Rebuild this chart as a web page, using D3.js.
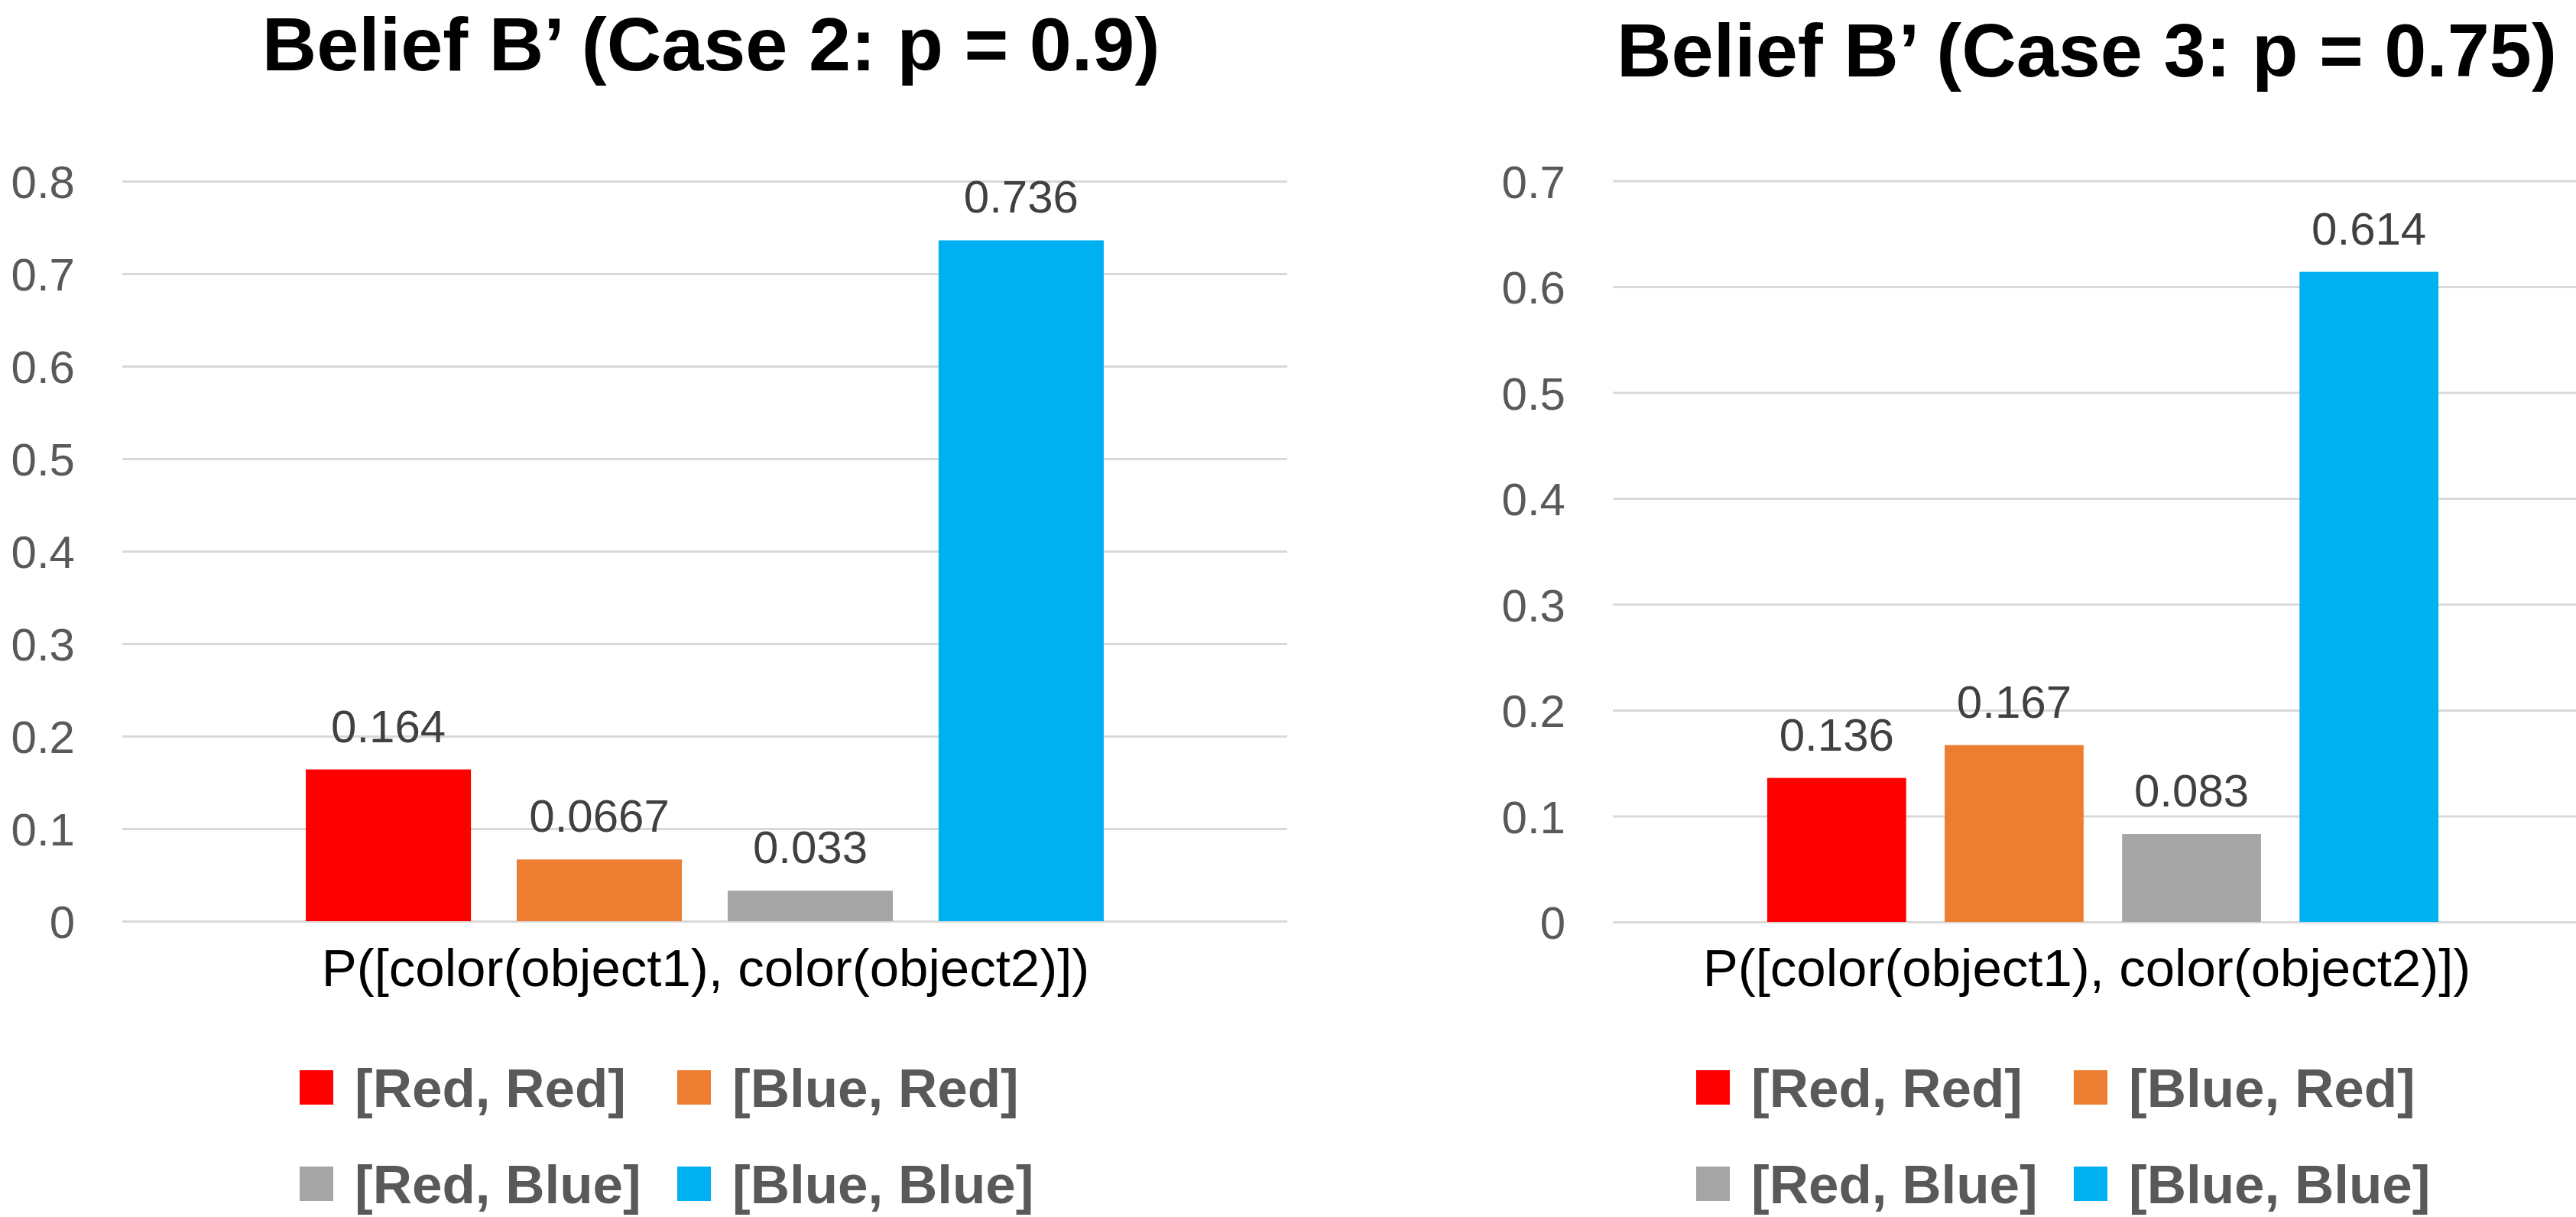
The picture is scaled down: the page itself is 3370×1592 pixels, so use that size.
<!DOCTYPE html>
<html>
<head>
<meta charset="utf-8">
<script src="https://cdn.jsdelivr.net/npm/d3@7"></script>
<style>
  html, body { margin: 0; padding: 0; background: #ffffff; }
  svg { display: block; }
  text { font-family: "Liberation Sans", Arial, sans-serif; }
</style>
</head>
<body>
<svg id="chart" width="3370" height="1592"></svg>
<script>
// ---- Data ----
const seriesNames = ["[Red, Red]", "[Blue, Red]", "[Red, Blue]", "[Blue, Blue]"];
const seriesColors = ["#FF0000", "#ED7D31", "#A5A5A5", "#00B0F0"];
const categoryLabel = "P([color(object1), color(object2)])";

const case2Title = "Belief B\u2019 (Case 2: p = 0.9)";
const case2Values = [0.164, 0.0667, 0.033, 0.736];
const case2Labels = ["0.164", "0.0667", "0.033", "0.736"];
const case2Ticks = [0, 0.1, 0.2, 0.3, 0.4, 0.5, 0.6, 0.7, 0.8];
const case2TickLabels = ["0", "0.1", "0.2", "0.3", "0.4", "0.5", "0.6", "0.7", "0.8"];

const case3Title = "Belief B\u2019 (Case 3: p = 0.75)";
const case3Values = [0.136, 0.167, 0.083, 0.614];
const case3Labels = ["0.136", "0.167", "0.083", "0.614"];
const case3Ticks = [0, 0.1, 0.2, 0.3, 0.4, 0.5, 0.6, 0.7];
const case3TickLabels = ["0", "0.1", "0.2", "0.3", "0.4", "0.5", "0.6", "0.7"];

// ---- Layout ----
const svg = d3.select("#chart");

const panels = [
  { title: case2Title, values: case2Values, labels: case2Labels, ticks: case2Ticks, tickLabels: case2TickLabels,
    x0: 160, x1: 1684, yBottom: 1205, yTop: 237, titleX: 930, titleY: 92, xLabelX: 923, legendX: 392 },
  { title: case3Title, values: case3Values, labels: case3Labels, ticks: case3Ticks, tickLabels: case3TickLabels,
    x0: 2110, x1: 3392, yBottom: 1206, yTop: 236.5, titleX: 2730, titleY: 100, xLabelX: 2730, legendX: 2219 }
];

panels.forEach(p => {
  const g = svg.append("g");
  const yMax = p.ticks[p.ticks.length - 1];
  const y = d3.scaleLinear().domain([0, yMax]).range([p.yBottom, p.yTop]);
  const x = d3.scaleBand().domain(seriesNames).range([p.x0, p.x1])
    .paddingInner(0.217).paddingOuter(0.87);

  // gridlines + tick labels
  const axis = d3.axisLeft(y)
    .tickValues(p.ticks)
    .tickFormat((d, i) => p.tickLabels[i])
    .tickSize(-(p.x1 - p.x0))
    .tickPadding(62);
  const ag = g.append("g").attr("transform", `translate(${p.x0},0)`).call(axis);
  ag.select(".domain").remove();
  ag.selectAll(".tick line").attr("stroke", "#D9D9D9").attr("stroke-width", 3).attr("x1", 0);
  ag.selectAll(".tick text")
    .attr("fill", "#595959")
    .style("font-size", "60px")
    .style("font-family", "'Liberation Sans', Arial, sans-serif")
    .attr("dy", "0.36em");

  // bars
  g.selectAll("rect.bar").data(p.values).join("rect")
    .attr("class", "bar")
    .attr("x", (d, i) => x(seriesNames[i]))
    .attr("width", x.bandwidth())
    .attr("y", d => y(d))
    .attr("height", d => y(0) - y(d))
    .attr("fill", (d, i) => seriesColors[i]);

  // data labels
  g.selectAll("text.dl").data(p.values).join("text")
    .attr("class", "dl")
    .attr("x", (d, i) => x(seriesNames[i]) + x.bandwidth() / 2)
    .attr("y", d => y(d) - 36)
    .attr("text-anchor", "middle")
    .attr("fill", "#404040")
    .style("font-size", "60px")
    .text((d, i) => p.labels[i]);

  // title
  g.append("text")
    .attr("x", p.titleX).attr("y", p.titleY)
    .attr("text-anchor", "middle")
    .attr("fill", "#000000")
    .style("font-size", "99px")
    .style("font-weight", "bold")
    .text(p.title);

  // category label
  g.append("text")
    .attr("x", p.xLabelX).attr("y", 1290)
    .attr("text-anchor", "middle")
    .attr("fill", "#000000")
    .style("font-size", "69px")
    .text(categoryLabel);

  // legend (2 x 2)
  const colOffsets = [0, 494];
  const rowY = [1422, 1548];
  seriesNames.forEach((name, i) => {
    const cx = p.legendX + colOffsets[i % 2];
    const cy = rowY[Math.floor(i / 2)];
    g.append("rect")
      .attr("x", cx).attr("y", cy - 22)
      .attr("width", 44).attr("height", 45)
      .attr("fill", seriesColors[i]);
    g.append("text")
      .attr("x", cx + 72).attr("y", cy + 26)
      .attr("fill", "#595959")
      .style("font-size", "71px")
      .style("font-weight", "bold")
      .text(name);
  });
});
</script>
</body>
</html>
